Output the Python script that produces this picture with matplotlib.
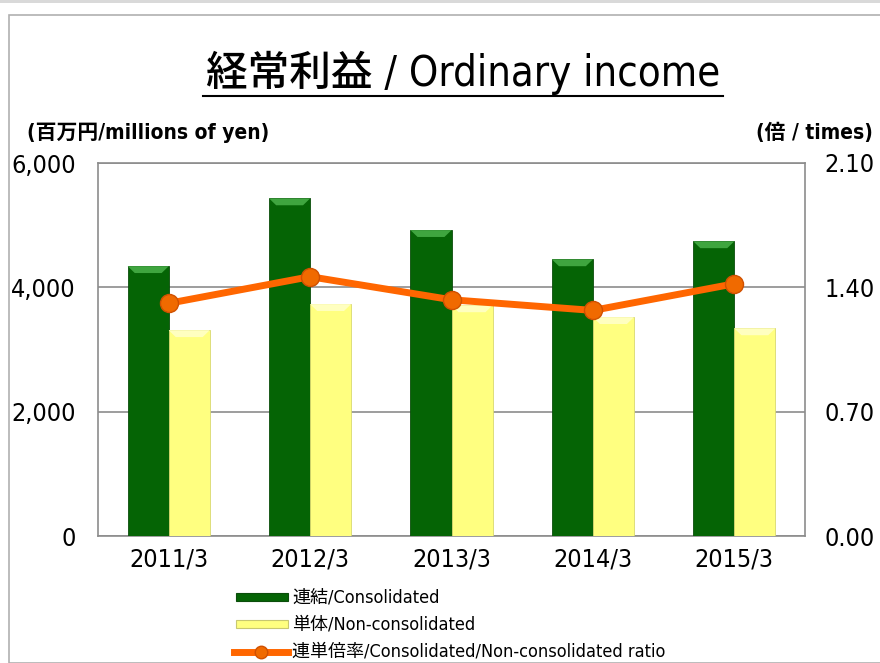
import matplotlib
matplotlib.use("Agg")
import matplotlib.pyplot as plt
import numpy as np
from matplotlib.patches import Rectangle, Polygon

plt.rcParams['font.family'] = ['DejaVu Sans', 'Noto Sans CJK JP']
plt.rcParams['font.stretch'] = 'condensed'

# data
years = ['2011/3', '2012/3', '2013/3', '2014/3', '2015/3']
consolidated = [4340, 5430, 4920, 4450, 4740]
non_consolidated = [3310, 3730, 3710, 3520, 3340]
ratio = [1.31, 1.46, 1.33, 1.27, 1.42]

W, H = 880, 663
fig = plt.figure(figsize=(W / 100, H / 100), dpi=100)

# outer frame
fig.patches.append(Rectangle((9 / W, 0), 1, (H - 15) / H, transform=fig.transFigure,
                             fill=False, edgecolor='#b0b0b0', lw=1.2))
fig.patches.append(Rectangle((0, (H - 3) / H), 1, 3 / H, transform=fig.transFigure,
                             facecolor='#d9d9d9', edgecolor='none'))

ax = fig.add_axes([98 / W, (H - 536) / H, (805 - 98) / W, (536 - 163) / H])
ax2 = ax.twinx()

x = np.arange(len(years))
bw = 0.29
green_x = x - bw / 2
yellow_x = x + bw / 2

ax.bar(green_x, consolidated, width=bw, color='#056405', edgecolor='#0b4d0b', lw=0.6, zorder=3)
ax.bar(yellow_x, non_consolidated, width=bw, color='#ffff80', edgecolor='#d8d870', lw=0.6, zorder=3)

# bevel highlights on bar tops
bev = 110
for xc, v in zip(green_x, consolidated):
    ax.add_patch(Polygon([(xc - bw / 2, v), (xc + bw / 2, v), (xc + bw / 2 - 0.05, v - bev),
                          (xc - bw / 2 + 0.05, v - bev)], closed=True,
                         facecolor='#3fa53f', edgecolor='none', zorder=4))
for xc, v in zip(yellow_x, non_consolidated):
    ax.add_patch(Polygon([(xc - bw / 2, v), (xc + bw / 2, v), (xc + bw / 2 - 0.05, v - bev),
                          (xc - bw / 2 + 0.05, v - bev)], closed=True,
                         facecolor='#ffffc0', edgecolor='none', zorder=4))

ax.set_xlim(-0.5, len(years) - 0.5)
ax.set_ylim(0, 6000)
ax.set_yticks([0, 2000, 4000, 6000])
ax.set_yticklabels(['0', '2,000', '4,000', '6,000'])
ax.yaxis.grid(True, color='#8c8c8c', lw=1.2, zorder=0)
ax.set_axisbelow(True)
ax.set_xticks(x)
ax.set_xticklabels(years)
for s in ax.spines.values():
    s.set_color('#8c8c8c')
    s.set_linewidth(1.2)
ax.tick_params(axis='x', length=0, labelsize=18, pad=8)
ax.tick_params(axis='y', length=0, labelsize=18, pad=16)

ax2.plot(x, ratio, color='#ff6600', lw=5, marker='o', ms=13, mfc='#f06a00',
         mec='#d05000', mew=1, zorder=5)
ax2.set_ylim(0, 2.10)
ax2.set_yticks([0, 0.70, 1.40, 2.10])
ax2.set_yticklabels(['0.00', '0.70', '1.40', '2.10'])
ax2.tick_params(axis='y', length=0, labelsize=18, pad=14)
for s in ax2.spines.values():
    s.set_visible(False)
ax.set_zorder(1)
ax2.set_zorder(2)

# title with underline
fig.text(463 / W, 1 - 73 / H, '経常利益 / Ordinary income', ha='center', va='center', fontsize=30,
         fontweight='medium')
fig.add_artist(plt.Line2D([203 / W, 723 / W], [1 - 96 / H, 1 - 96 / H], color='black', lw=1.5))

fig.text(27 / W, 1 - 133 / H, '(百万円/millions of yen)', ha='left', va='center', fontsize=15,
         fontweight='bold')
fig.text(873 / W, 1 - 133 / H, '(倍 / times)', ha='right', va='center', fontsize=15,
         fontweight='bold')

# legend
leg_items = [
    ('bar', '#056405', '#0b4d0b', '連結/Consolidated'),
    ('bar', '#ffff80', '#c8c870', '単体/Non-consolidated'),
    ('line', '#ff6600', '#d05000', '連単倍率/Consolidated/Non-consolidated ratio'),
]
for i, (kind, col, ec, lab) in enumerate(leg_items):
    yy = 1 - (597 + i * 27.5) / H
    if kind == 'bar':
        fig.patches.append(Rectangle((236 / W, yy - 3.5 / H), 52 / W, 8 / H, transform=fig.transFigure,
                                     facecolor=col, edgecolor=ec, lw=0.8))
    else:
        fig.add_artist(plt.Line2D([234 / W, 288 / W], [yy, yy], color=col, lw=5))
        fig.add_artist(plt.Line2D([261 / W], [yy], marker='o', ms=9, mfc='#f06a00', mec=ec, lw=0))
    fig.text(292 / W, yy, lab, ha='left', va='center', fontsize=13)

fig.savefig('out.png', dpi=100)
